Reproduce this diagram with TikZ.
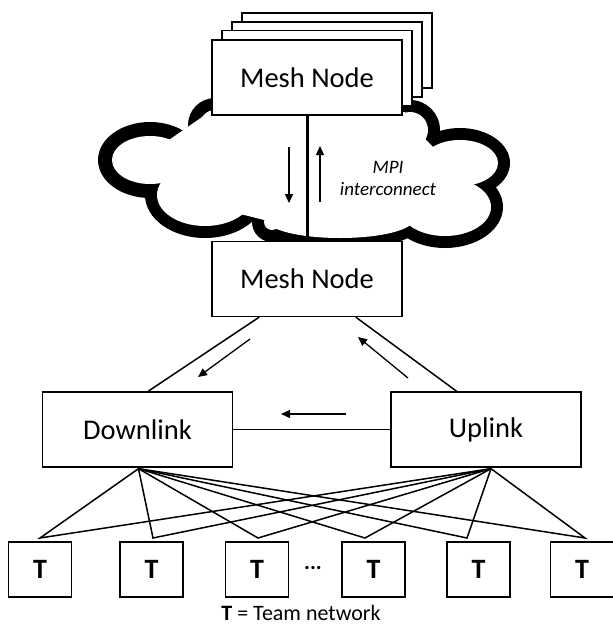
\documentclass[tikz,border=0pt]{standalone}
\usepackage{fontspec}
\setmainfont{Carlito}
\usetikzlibrary{arrows.meta,calc}

\begin{document}
\begin{tikzpicture}[x=1pt,y=-1pt,
  box/.style={draw, line width=1.3pt, fill=white, minimum width=190pt, minimum height=75pt, inner sep=0pt, font=\fontsize{28.5}{34}\selectfont},
  tbox/.style={draw, line width=1.3pt, fill=white, minimum width=63pt, minimum height=55pt, inner sep=0pt, font=\fontsize{28}{32}\selectfont\bfseries},
  conn/.style={line width=1.5pt},
  arr/.style={line width=1.3pt, -{Triangle[length=9pt,width=8pt]}},
]
\useasboundingbox (0,0) rectangle (613,627);

% ---- cloud (outer black lobes, then white inner lobes) ----
\fill[black] (150,160) ellipse [x radius=52pt, y radius=38pt];
\fill[black] (215,125) circle [radius=27pt];
\fill[black] (205,195) ellipse [x radius=60pt, y radius=43pt];
\fill[black] (272,222) circle [radius=20pt];
\fill[black] (340,220) ellipse [x radius=85pt, y radius=30pt];
\fill[black] (410,130) circle [radius=30pt];
\fill[black] (460,163) ellipse [x radius=50pt, y radius=35pt];
\fill[black] (445,207) ellipse [x radius=58pt, y radius=41pt];
\fill[white] (150,160) ellipse [x radius=38pt, y radius=24pt];
\fill[white] (215,125) circle [radius=15pt];
\fill[white] (205,195) ellipse [x radius=48pt, y radius=31pt];
\fill[white] (272,222) circle [radius=8pt];
\fill[white] (340,220) ellipse [x radius=73pt, y radius=18pt];
\fill[white] (410,130) circle [radius=18pt];
\fill[white] (460,163) ellipse [x radius=38pt, y radius=23pt];
\fill[white] (445,207) ellipse [x radius=46pt, y radius=29pt];
\fill[white] (140,160) -- (205,115) -- (405,112) -- (405,118) -- (460,175) -- (445,215) -- (340,232) -- (272,222) -- (205,205) -- cycle;

% ---- top mesh node stack ----
\node[box] (s3) at (337,50.5) {};
\node[box] (s2) at (327,59.5) {};
\node[box] (s1) at (317,68) {};
\node[box] (m1) at (307,77.5) {Mesh Node};

% ---- bottom mesh node ----
\node[box] (m2) at (307,279) {Mesh Node};

% MPI link
\draw[line width=3pt] (m1.south) -- (m2.north);
\coordinate (da1) at (289,147);
\coordinate (da2) at (289,203);
\coordinate (ua1) at (320,202);
\coordinate (ua2) at (320,146);
\draw[arr] (da1) -- (da2);
\draw[arr] (ua1) -- (ua2);
\node[font=\fontsize{19}{22}\selectfont\itshape, align=center] (mpi) at (388,178) {MPI\\interconnect};

% ---- downlink / uplink ----
\node[box] (dn) at (137.5,429.5) {Downlink};
\node[box] (up) at (486,429.5) {Uplink};

\draw[conn] ($(m2.south west)!0.25!(m2.south east)$) -- ($(dn.north west)!0.555!(dn.north east)$);
\draw[conn] ($(m2.south west)!0.755!(m2.south east)$) -- ($(up.north west)!0.347!(up.north east)$);
\draw[line width=1.2pt] (dn.east) -- (up.west);

\coordinate (a1s) at (250,339);
\coordinate (a1e) at (198,377);
\coordinate (a2s) at (408,378);
\coordinate (a2e) at (358,337);
\coordinate (a3s) at (346,414);
\coordinate (a3e) at (281,414);
\draw[arr] (a1s) -- (a1e);
\draw[arr] (a2s) -- (a2e);
\draw[arr] (a3s) -- (a3e);

% ---- team networks ----
\node[tbox] (t1) at (40,569.5) {T};
\node[tbox] (t2) at (151.5,569.5) {T};
\node[tbox] (t3) at (257,569.5) {T};
\node[tbox] (t4) at (373.5,569.5) {T};
\node[tbox] (t5) at (478.5,569.5) {T};
\node[tbox] (t6) at (582,569.5) {T};
\node[font=\fontsize{22}{24}\selectfont\bfseries] (dots) at (313,568) {...};

\coordinate (p1) at (40,538);
\coordinate (p2) at (153,538);
\coordinate (p3) at (258,538);
\coordinate (p4) at (365,538);
\coordinate (p5) at (467,538);
\coordinate (p6) at (585,538);
\coordinate (df) at ($(dn.south)+(1,1)$);
\coordinate (uf) at ($(up.south)+(5,1)$);
\foreach \p in {p1,p2,p3,p4,p5,p6}{
  \draw[conn, line join=miter] (df) -- (\p) -- (uf);
}

\node[font=\fontsize{22}{25}\selectfont, inner sep=0pt] (legend) at (301,613) {\textbf{T} = Team network};
\end{tikzpicture}
\end{document}
